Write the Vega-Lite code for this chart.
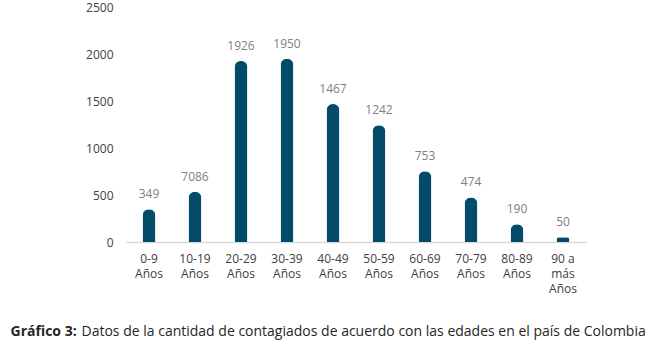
{
  "$schema": "https://vega.github.io/schema/vega-lite/v6.json",
  "autosize": {"type": "none"},
  "width": 460,
  "height": 235,
  "padding": {"left": 126, "top": 7, "right": 70, "bottom": 100},
  "background": "white",
  "config": {"view": {"stroke": null}, "font": "Open Sans"},
  "data": {
    "values": [
      {"grupo": "0-9|Años", "valor": 349, "etiqueta": "349"},
      {"grupo": "10-19|Años", "valor": 535, "etiqueta": "7086"},
      {"grupo": "20-29|Años", "valor": 1926, "etiqueta": "1926"},
      {"grupo": "30-39|Años", "valor": 1950, "etiqueta": "1950"},
      {"grupo": "40-49|Años", "valor": 1467, "etiqueta": "1467"},
      {"grupo": "50-59|Años", "valor": 1242, "etiqueta": "1242"},
      {"grupo": "60-69|Años", "valor": 753, "etiqueta": "753"},
      {"grupo": "70-79|Años", "valor": 474, "etiqueta": "474"},
      {"grupo": "80-89|Años", "valor": 190, "etiqueta": "190"},
      {"grupo": "90 a|más|Años", "valor": 50, "etiqueta": "50"}
    ]
  },
  "encoding": {
    "x": {
      "field": "grupo",
      "type": "nominal",
      "sort": null,
      "scale": {"paddingInner": 0.72, "paddingOuter": 0.36},
      "axis": {
        "title": "Datos de la cantidad de contagiados de acuerdo con las edades en el país de Colombia",
        "titleFont": "Open Sans",
        "titleFontSize": 14,
        "titleFontWeight": "normal",
        "titleColor": "#262626",
        "titleAnchor": "start",
        "titleAlign": "left",
        "titleX": -45,
        "titleY": 89,
        "titleBaseline": "middle",
        "labelExpr": "split(datum.value, '|')",
        "labelAngle": 0,
        "labelFont": "Open Sans",
        "labelFontSize": 12,
        "labelColor": "#404040",
        "labelLineHeight": 15,
        "labelPadding": 11,
        "labelBaseline": "top",
        "ticks": false,
        "domainColor": "#d9d9d9",
        "domainWidth": 1.5
      }
    },
    "y": {
      "field": "valor",
      "type": "quantitative",
      "scale": {"domain": [0, 2500]},
      "axis": {
        "values": [0, 500, 1000, 1500, 2000, 2500],
        "format": "d",
        "title": "Gráfico 3:",
        "titleFont": "Open Sans",
        "titleFontSize": 14,
        "titleFontWeight": "bold",
        "titleColor": "#262626",
        "titleAngle": 0,
        "titleAlign": "left",
        "titleBaseline": "middle",
        "titleX": -116,
        "titleY": 324,
        "grid": false,
        "domain": false,
        "ticks": false,
        "labelPadding": 13,
        "labelFont": "Open Sans",
        "labelFontSize": 12,
        "labelColor": "#404040",
        "labelFlush": false
      }
    }
  },
  "layer": [
    {
      "mark": {
        "type": "bar",
        "color": "#024c6a",
        "cornerRadiusTopLeft": 6.5,
        "cornerRadiusTopRight": 6.5
      }
    },
    {
      "mark": {
        "type": "text",
        "baseline": "bottom",
        "dy": -8,
        "font": "Open Sans",
        "fontSize": 12,
        "color": "#7f7f7f"
      },
      "encoding": {"text": {"field": "etiqueta"}}
    }
  ]
}
